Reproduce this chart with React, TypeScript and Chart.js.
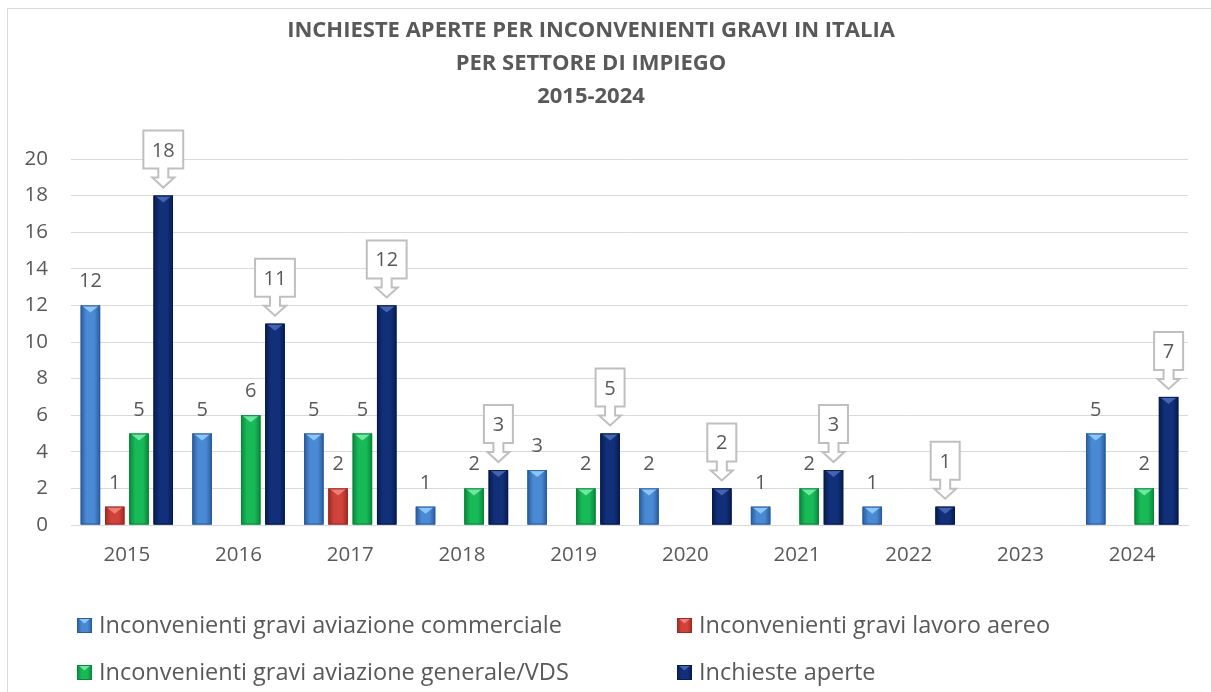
import React, { useEffect, useRef } from 'react';
import { Chart, registerables } from 'chart.js';

Chart.register(...registerables);

const FONT = '"Open Sans", Lato, sans-serif';
const TEXT = '#595959';
const GRID = '#d9d9d9';

const titleLines = [
  'INCHIESTE APERTE PER INCONVENIENTI GRAVI IN ITALIA',
  'PER SETTORE DI IMPIEGO',
  '2015-2024',
];

const years = ['2015', '2016', '2017', '2018', '2019', '2020', '2021', '2022', '2023', '2024'];

const commerciale: (number | null)[] = [12, 5, 5, 1, 3, 2, 1, 1, null, 5];
const lavoroAereo: (number | null)[] = [1, null, 2, null, null, null, null, null, null, null];
const generaleVds: (number | null)[] = [5, 6, 5, 2, 2, null, 2, null, null, 2];
const inchiesteAperte: (number | null)[] = [18, 11, 12, 3, 5, 2, 3, 1, null, 7];

const seriesNames = [
  'Inconvenienti gravi aviazione commerciale',
  'Inconvenienti gravi lavoro aereo',
  'Inconvenienti gravi aviazione generale/VDS',
  'Inchieste aperte',
];

const palettes = [
  { edge: '#2A5C9C', mid: '#4A8AD5', tri: '#8DC6F6' },
  { edge: '#9E2A22', mid: '#D0433B', tri: '#EC7F77' },
  { edge: '#0A863A', mid: '#17BA57', tri: '#6FE7A0' },
  { edge: '#071B4F', mid: '#12307A', tri: '#4463B0' },
];

function paintBar(ctx: CanvasRenderingContext2D, l: number, top: number, w: number, h: number, p: { edge: string; mid: string; tri: string }) {
  if (h <= 0) return;
  const g = ctx.createLinearGradient(l, 0, l + w, 0);
  g.addColorStop(0, p.edge);
  g.addColorStop(0.3, p.mid);
  g.addColorStop(0.7, p.mid);
  g.addColorStop(1, p.edge);
  ctx.fillStyle = g;
  ctx.fillRect(l, top, w, h);
  const th = Math.min(w * 0.36, h);
  ctx.beginPath();
  ctx.moveTo(l + 1, top);
  ctx.lineTo(l + w - 1, top);
  ctx.lineTo(l + w / 2, top + th);
  ctx.closePath();
  ctx.fillStyle = p.tri;
  ctx.fill();
  ctx.strokeStyle = p.edge;
  ctx.lineWidth = 1;
  ctx.strokeRect(l + 0.5, top + 0.5, w - 1, h - 1);
}

const decorPlugin = {
  id: 'decor',
  afterDatasetsDraw(chart: any) {
    const ctx: CanvasRenderingContext2D = chart.ctx;
    ctx.save();
    chart.data.datasets.forEach((ds: any, i: number) => {
      const meta = chart.getDatasetMeta(i);
      meta.data.forEach((el: any, j: number) => {
        const v = ds.data[j];
        if (v == null) return;
        const { x, y, base, width } = el.getProps(['x', 'y', 'base', 'width'], true);
        paintBar(ctx, x - width / 2, y, width, base - y, palettes[i]);
      });
    });
    ctx.font = `20px ${FONT}`;
    ctx.textAlign = 'center';
    ctx.textBaseline = 'alphabetic';
    chart.data.datasets.forEach((ds: any, i: number) => {
      const meta = chart.getDatasetMeta(i);
      meta.data.forEach((el: any, j: number) => {
        const v = ds.data[j];
        if (v == null) return;
        const { x, y } = el.getProps(['x', 'y'], true);
        const txt = String(v);
        if (i < 3) {
          ctx.fillStyle = TEXT;
          ctx.fillText(txt, x, y - 18);
        } else {
          const tw = ctx.measureText(txt).width;
          const bw = Math.max(tw + 17, 29);
          const boxTop = y - 65;
          const boxBot = y - 27;
          ctx.beginPath();
          ctx.moveTo(x - bw / 2, boxTop);
          ctx.lineTo(x + bw / 2, boxTop);
          ctx.lineTo(x + bw / 2, boxBot);
          ctx.lineTo(x + 5, boxBot);
          ctx.lineTo(x + 5, y - 18);
          ctx.lineTo(x + 11, y - 18);
          ctx.lineTo(x, y - 8);
          ctx.lineTo(x - 11, y - 18);
          ctx.lineTo(x - 5, y - 18);
          ctx.lineTo(x - 5, boxBot);
          ctx.lineTo(x - bw / 2, boxBot);
          ctx.closePath();
          ctx.fillStyle = '#ffffff';
          ctx.fill();
          ctx.strokeStyle = '#bfbfbf';
          ctx.lineWidth = 2;
          ctx.stroke();
          ctx.fillStyle = TEXT;
          ctx.fillText(txt, x, y - 39);
        }
      });
    });
    ctx.restore();
  },
  afterDraw(chart: any) {
    const ctx: CanvasRenderingContext2D = chart.ctx;
    const area = chart.chartArea;
    ctx.save();
    ctx.fillStyle = TEXT;
    ctx.textAlign = 'center';
    ctx.textBaseline = 'alphabetic';
    ctx.font = `bold 22px ${FONT}`;
    titleLines.forEach((t, k) => ctx.fillText(t, 583, 28 + k * 33));
    ctx.font = `23.5px ${FONT}`;
    ctx.textAlign = 'left';
    const cols = [area.left + 6, area.left + 606];
    const rows = [area.bottom + 108, area.bottom + 155];
    seriesNames.forEach((name, i) => {
      const bx = cols[i % 2];
      const by = rows[Math.floor(i / 2)];
      paintBar(ctx, bx, by - 15, 15, 15, palettes[i]);
      ctx.fillStyle = TEXT;
      ctx.fillText(name, bx + 22, by);
    });
    ctx.restore();
  },
};

export default function App() {
  const ref = useRef<HTMLCanvasElement>(null);
  useEffect(() => {
    const chart = new Chart(ref.current as HTMLCanvasElement, {
      type: 'bar',
      data: {
        labels: years,
        datasets: [
          { label: seriesNames[0], data: commerciale, backgroundColor: palettes[0].mid },
          { label: seriesNames[1], data: lavoroAereo, backgroundColor: palettes[1].mid },
          { label: seriesNames[2], data: generaleVds, backgroundColor: palettes[2].mid },
          { label: seriesNames[3], data: inchiesteAperte, backgroundColor: palettes[3].mid },
        ],
      },
      options: {
        responsive: false,
        animation: false,
        layout: { padding: { left: 0, right: 52, top: 150, bottom: 134 } },
        datasets: { bar: { categoryPercentage: 0.87, barPercentage: 0.8 } },
        plugins: {
          legend: { display: false },
          title: { display: false },
          tooltip: { enabled: false },
        },
        scales: {
          x: {
            grid: { display: false, drawTicks: false },
            border: { display: true, color: GRID, width: 1 },
            ticks: { color: TEXT, font: { family: FONT, size: 20.5 }, padding: 18, maxRotation: 0, autoSkip: false },
            afterFit: (s: any) => { s.height = 40; },
          },
          y: {
            min: 0,
            max: 20,
            ticks: { stepSize: 2, color: TEXT, font: { family: FONT, size: 20.5 }, padding: 23 },
            grid: { color: GRID, drawTicks: false },
            border: { display: false },
            afterFit: (s: any) => { s.width = 63; },
          },
        },
      },
      plugins: [decorPlugin],
    } as any);
    return () => chart.destroy();
  }, []);
  return (
    <div
      style={{
        position: 'fixed',
        left: 7,
        top: 8,
        width: 1240,
        height: 700,
        borderLeft: `1px solid ${GRID}`,
        borderTop: `1px solid ${GRID}`,
        background: '#ffffff',
      }}
    >
      <canvas ref={ref} width={1232} height={690} style={{ display: 'block' }} />
    </div>
  );
}
